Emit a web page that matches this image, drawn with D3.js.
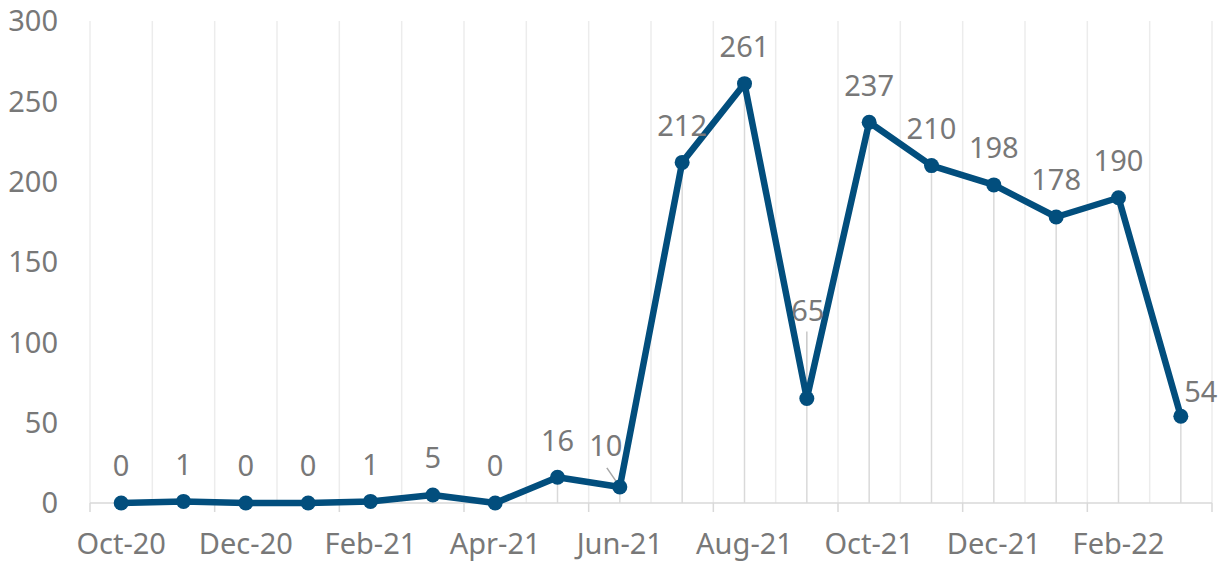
<!DOCTYPE html>
<html>
<head>
<meta charset="utf-8">
<script src="https://cdnjs.cloudflare.com/ajax/libs/d3/7.8.5/d3.min.js"></script>
<style>
  body { margin: 0; background: #fff; }
  text { font-family: "Noto Sans", "Open Sans", sans-serif; fill: #787878; }
</style>
</head>
<body>
<div id="chart"></div>
<script>
// chart data
const months = ["Oct-20", "Nov-20", "Dec-20", "Jan-21", "Feb-21", "Mar-21", "Apr-21", "May-21", "Jun-21",
    "Jul-21", "Aug-21", "Sep-21", "Oct-21", "Nov-21", "Dec-21", "Jan-22", "Feb-22", "Mar-22"];
const counts = [0, 1, 0, 0, 1, 5, 0, 16, 10, 212, 261, 65, 237, 210, 198, 178, 190, 54];
const xTickLabels = ["Oct-20", "Dec-20", "Feb-21", "Apr-21", "Jun-21", "Aug-21", "Oct-21", "Dec-21", "Feb-22"];
const yTicks = [0, 50, 100, 150, 200, 250, 300];

const W = 1220, H = 563;
const margin = { top: 21, right: 8, bottom: 60, left: 90 },
    width = W - margin.left - margin.right,
    height = H - margin.top - margin.bottom;

const data = months.map((m, i) => ({ key: m, value: counts[i] }));

const svg = d3.select("#chart")
    .append("svg")
    .attr("width", W)
    .attr("height", H)
    .append("g")
    .attr("transform", `translate(${margin.left},${margin.top})`);

const x = d3.scaleBand()
    .domain(months)
    .range([0, width]);
const y = d3.scaleLinear()
    .domain([0, 300])
    .range([height, 0]);

const cx = d => x(d.key) + x.bandwidth() / 2;

// vertical gridlines on category boundaries
const bounds = months.map(m => x(m)).concat([width]);
svg.append("g")
    .selectAll("line")
    .data(bounds)
    .enter().append("line")
    .attr("x1", d => d).attr("x2", d => d)
    .attr("y1", 0).attr("y2", height)
    .attr("stroke", "#ececec")
    .attr("stroke-width", 1.5);

// drop lines from each point to the axis
svg.append("g")
    .selectAll("line")
    .data(data)
    .enter().append("line")
    .attr("x1", cx).attr("x2", cx)
    .attr("y1", d => y(d.value)).attr("y2", height)
    .attr("stroke", "#d9d9d9")
    .attr("stroke-width", 1.5);

// x axis line + major ticks every two months
svg.append("line")
    .attr("x1", 0).attr("x2", width)
    .attr("y1", height).attr("y2", height)
    .attr("stroke", "#d9d9d9")
    .attr("stroke-width", 1.5);
svg.append("g")
    .selectAll("line")
    .data(bounds.filter((d, i) => i % 2 == 0))
    .enter().append("line")
    .attr("x1", d => d).attr("x2", d => d)
    .attr("y1", height).attr("y2", height + 9)
    .attr("stroke", "#d9d9d9")
    .attr("stroke-width", 1.5);

// x labels
svg.append("g")
    .selectAll("text")
    .data(xTickLabels)
    .enter().append("text")
    .attr("x", d => x(d) + x.bandwidth() / 2)
    .attr("y", height + 51)
    .attr("text-anchor", "middle")
    .attr("font-size", "29px")
    .text(d => d);

// y labels
svg.append("g")
    .selectAll("text")
    .data(yTicks)
    .enter().append("text")
    .attr("x", -32)
    .attr("y", d => y(d))
    .attr("dy", "0.36em")
    .attr("text-anchor", "end")
    .attr("font-size", "29px")
    .text(d => d);

// leader lines for the two labels that were moved off their points
svg.append("line")
    .attr("x1", cx(data[8]) - 13).attr("y1", y(data[8].value) - 19)
    .attr("x2", cx(data[8]) - 2).attr("y2", y(data[8].value) - 3)
    .attr("stroke", "#a6a6a6").attr("stroke-width", 1.5);
svg.append("line")
    .attr("x1", cx(data[11])).attr("y1", y(data[11].value) - 67)
    .attr("x2", cx(data[11])).attr("y2", y(data[11].value) - 5)
    .attr("stroke", "#c8c8c8").attr("stroke-width", 1.5);

// the line
const line = d3.line()
    .x(cx)
    .y(d => y(d.value));
svg.append("path")
    .datum(data)
    .attr("fill", "none")
    .attr("stroke", "#024e7d")
    .attr("stroke-width", 6.5)
    .attr("stroke-linejoin", "round")
    .attr("d", line);

svg.append("g")
    .selectAll("circle")
    .data(data)
    .enter().append("circle")
    .attr("cx", cx)
    .attr("cy", d => y(d.value))
    .attr("r", 7.5)
    .attr("fill", "#024e7d");

// data labels, a few were dragged aside in the original
const labelShift = {
    "Jun-21": [-14, -41],
    "Sep-21": [1, -88],
    "Mar-22": [20, -25]
};
svg.append("g")
    .selectAll("text")
    .data(data)
    .enter().append("text")
    .attr("x", d => cx(d) + (labelShift[d.key] ? labelShift[d.key][0] : 0))
    .attr("y", d => y(d.value) + (labelShift[d.key] ? labelShift[d.key][1] : -37))
    .attr("dy", "0.36em")
    .attr("text-anchor", "middle")
    .attr("font-size", "29px")
    .text(d => d.value);
</script>
</body>
</html>
